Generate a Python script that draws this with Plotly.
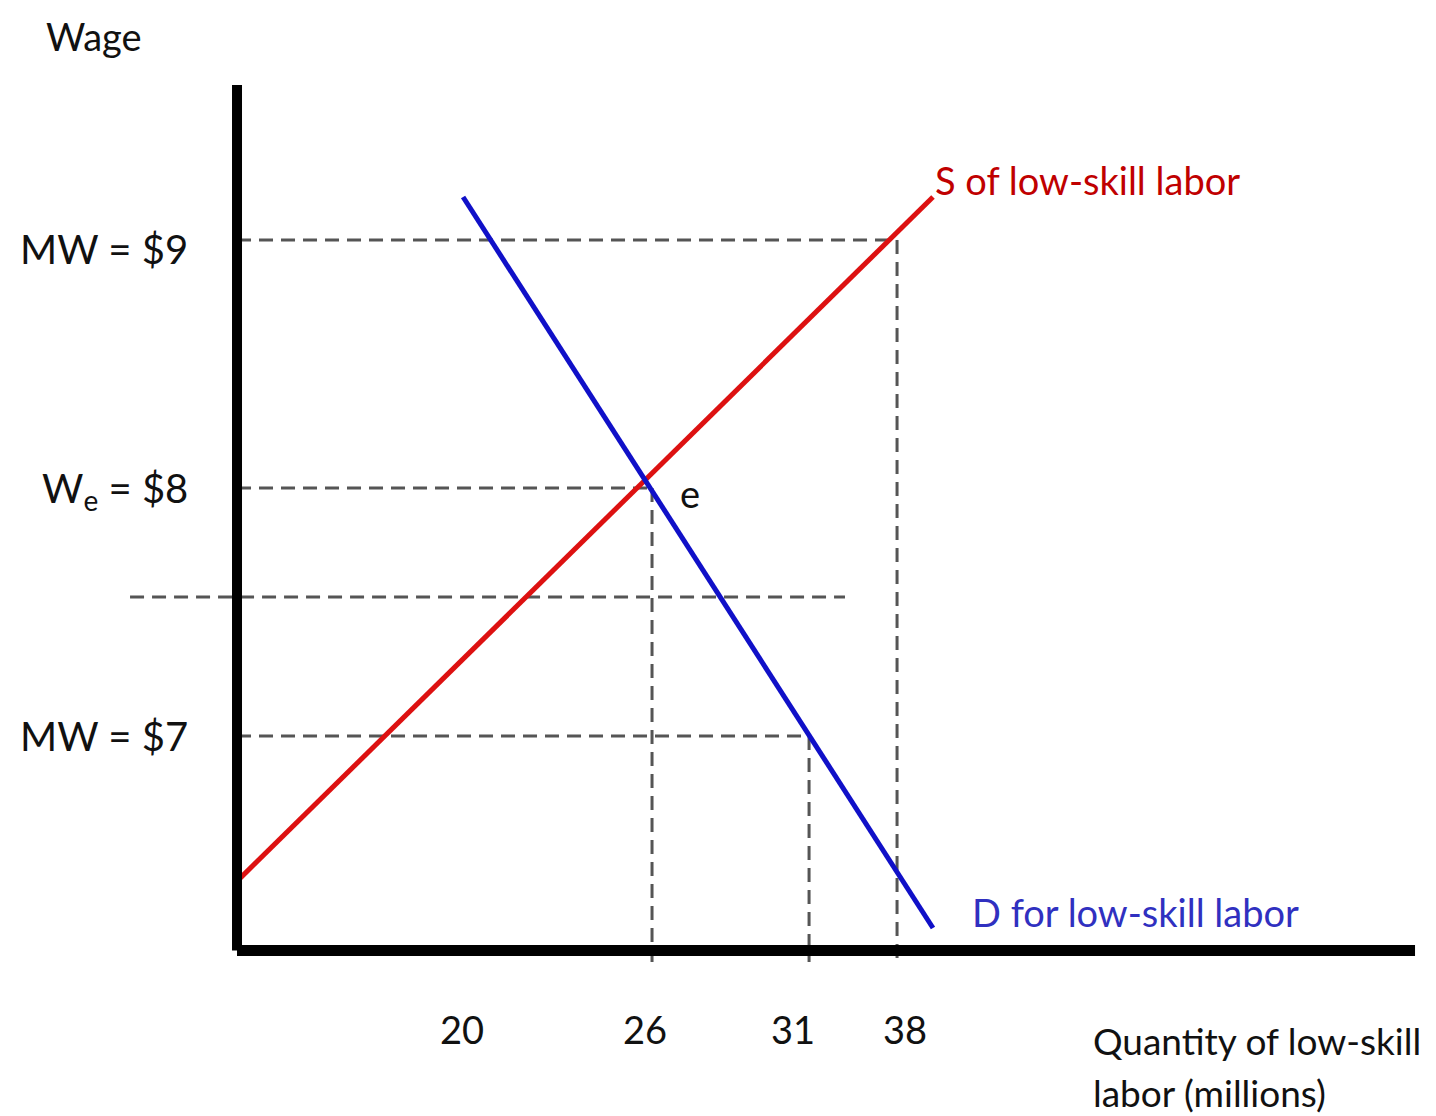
import plotly.graph_objects as go

# ---- data (schematic diagram units: x = position along quantity axis, y = wage in $) ----
wage_levels = [9, 8, 7]
wage_labels = ["MW = $9", "W<sub>e</sub> = $8", "MW = $7"]
qty_at_wage = [56.03, 35.23, 48.56]          # where each wage dashed line meets the curve
extra_wage = 7.56                              # unlabeled dashed wage line
extra_span = [-9.08, 51.61]

qty_ticks = ["20", "26", "31", "38"]
qty_tick_pos = [19.10, 34.63, 47.20, 56.71]

supply_x = [0.1, 59.08]
supply_y = [6.419, 9.173]
demand_x = [19.19, 59.08]
demand_y = [9.173, 6.226]

x_axis_end = 100
y_axis_top = 9.625
axis_base = 6.135
dash_bottom = 6.089

fig = go.Figure()

dash_style = dict(color="#555555", width=3, dash="14px,8px")

# horizontal dashed wage lines and vertical drops
for w, q in zip(wage_levels, qty_at_wage):
    fig.add_trace(go.Scatter(x=[0, q], y=[w, w], mode="lines", line=dash_style,
                             hoverinfo="skip", showlegend=False))
    fig.add_trace(go.Scatter(x=[q, q], y=[w, dash_bottom], mode="lines", line=dash_style,
                             hoverinfo="skip", showlegend=False))
fig.add_trace(go.Scatter(x=extra_span, y=[extra_wage, extra_wage], mode="lines",
                         line=dash_style, hoverinfo="skip", showlegend=False))

# supply and demand
fig.add_trace(go.Scatter(x=supply_x, y=supply_y, mode="lines",
                         line=dict(color="#dd1111", width=5), showlegend=False))
fig.add_trace(go.Scatter(x=demand_x, y=demand_y, mode="lines",
                         line=dict(color="#1010c8", width=5), showlegend=False))

# axes
fig.add_trace(go.Scatter(x=[0, 0], y=[y_axis_top, axis_base], mode="lines",
                         line=dict(color="black", width=10), showlegend=False, hoverinfo="skip"))
fig.add_trace(go.Scatter(x=[0, x_axis_end], y=[axis_base, axis_base], mode="lines",
                         line=dict(color="black", width=11), showlegend=False, hoverinfo="skip"))

FONT = "Lato"
FS = 38
ann = []
ann.append(dict(x=-12.14, y=9.823, text="Wage", xanchor="center", yanchor="middle"))
yshifts = [-9, -3, 0]
for w, lab, ys in zip(wage_levels, wage_labels, yshifts):
    ann.append(dict(x=-4.0, y=w, text=lab, xanchor="right", yanchor="middle", yshift=ys,
                    font=dict(family=FONT, size=40, color="#111111")))
for t, p in zip(qty_ticks, qty_tick_pos):
    ann.append(dict(x=p, y=5.819, text=t, xanchor="center", yanchor="middle"))
ann.append(dict(x=38.46, y=7.98, text="e", xanchor="center", yanchor="middle"))
ann.append(dict(x=59.08, y=9.242, text="S of low-skill labor", xanchor="left", yanchor="middle",
                font=dict(family=FONT, size=FS, color="#c00000")))
ann.append(dict(x=62.2, y=6.29, text="D for low-skill labor", xanchor="left", yanchor="middle",
                font=dict(family=FONT, size=FS, color="#3030c0")))
ann.append(dict(x=72.5, y=5.774, text="Quantity of low-skill", xanchor="left", yanchor="middle",
                font=dict(family=FONT, size=37, color="#111111")))
ann.append(dict(x=72.5, y=5.562, text="labor (millions)", xanchor="left", yanchor="middle",
                font=dict(family=FONT, size=37, color="#111111")))

for a in ann:
    a.setdefault("font", dict(family=FONT, size=FS, color="#111111"))
    a["showarrow"] = False
    a["xref"] = "x"
    a["yref"] = "y"

# page body has an 8px margin, so the figure is 1428x1108 and ranges account for it
fig.update_layout(
    width=1428, height=1108,
    margin=dict(l=0, r=0, t=0, b=0),
    paper_bgcolor="white", plot_bgcolor="white",
    xaxis=dict(range=[-19.44, 101.78], visible=False, domain=[0, 1]),
    yaxis=dict(range=[5.468, 9.935], visible=False, domain=[0, 1]),
    annotations=ann,
)

fig.write_html("out.html")
